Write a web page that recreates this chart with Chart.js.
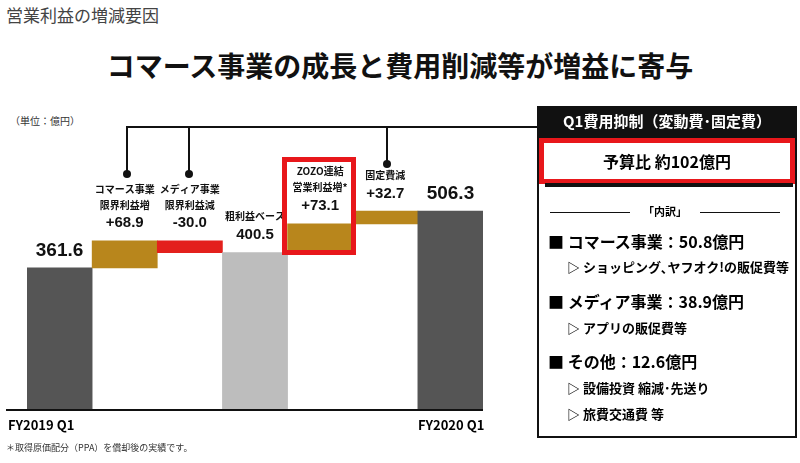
<!DOCTYPE html>
<html><head><meta charset="utf-8">
<script src="https://cdn.jsdelivr.net/npm/chart.js@4"></script>
<style>
body{margin:0;width:800px;height:463px;background:#fff;font-family:"Noto Sans CJK JP",sans-serif;position:relative;overflow:hidden}
.a{position:absolute}
#wrap{position:absolute;left:27px;top:100px;width:456px;height:310px}
.b{font-weight:bold}
</style></head><body>
<div class="a" style="left:6px;top:2px;font-size:17px;color:#444">営業利益の増減要因</div>
<div class="a b" style="left:0;width:800px;top:45px;text-align:center;font-size:28px;color:#111">コマース事業の成長と費用削減等が増益に寄与</div>
<div class="a" style="left:10px;top:113px;font-size:10px;color:#333">（単位：億円）</div>
<div id="wrap"><canvas id="c"></canvas></div>
<!-- connectors -->
<div class="a" style="left:127px;top:126px;width:413px;height:2px;background:#111"></div>
<div class="a" style="left:126px;top:126px;width:2px;height:48px;background:#111"></div>
<div class="a" style="left:188px;top:126px;width:2px;height:48px;background:#111"></div>
<div class="a" style="left:386px;top:126px;width:2px;height:37px;background:#111"></div>
<div class="a" style="left:123px;top:170px;width:8px;height:8px;border-radius:50%;background:#111"></div>
<div class="a" style="left:185px;top:170px;width:8px;height:8px;border-radius:50%;background:#111"></div>
<div class="a" style="left:383px;top:160px;width:8px;height:8px;border-radius:50%;background:#111"></div>
<div class="a" style="left:282px;top:157px;width:64px;height:88px;border:5px solid #e8171b"></div>
<div class="a" style="left:6px;top:409px;width:477px;height:2px;background:#111"></div>
<div class="a b" style="left:8px;top:415px;font-size:13px">FY2019 Q1</div>
<div class="a b" style="left:418px;top:415px;font-size:13px">FY2020 Q1</div>
<div class="a" style="left:6px;top:441px;font-size:9px;color:#333">＊取得原価配分（PPA）を償却後の実績です。</div>
<!-- panel -->
<div class="a" style="left:537px;top:106px;width:256px;height:328px;border:2px solid #111"></div>
<div class="a b" style="left:537px;top:106px;width:260px;height:32px;background:#111;color:#fff;font-size:15px;text-align:center;line-height:30px">Q1費用抑制（変動費･固定費）</div>
<div class="a b" style="left:539px;top:138px;width:246px;height:36px;border:5px solid #e8171b;background:#fff;font-size:16px;text-align:center;line-height:36px">予算比 約102億円</div>
<div class="a" style="left:545px;top:183px;width:248px;height:4px;background:#111"></div>
<div class="a" style="left:550px;top:212px;width:80px;height:1px;background:#111"></div>
<div class="a" style="left:700px;top:212px;width:80px;height:1px;background:#111"></div>
<div class="a b" style="left:630px;top:203px;width:70px;text-align:center;font-size:11px">「内訳」</div>
<div class="a b" style="left:548px;top:229px;font-size:16px">■ コマース事業：50.8億円</div>
<div class="a b" style="left:567px;top:257px;font-size:13px">▷ ショッピング､ヤフオク!の販促費等</div>
<div class="a b" style="left:548px;top:289px;font-size:16px">■ メディア事業：38.9億円</div>
<div class="a b" style="left:567px;top:318px;font-size:13px">▷ アプリの販促費等</div>
<div class="a b" style="left:548px;top:349px;font-size:16px">■ その他：12.6億円</div>
<div class="a b" style="left:567px;top:378px;font-size:13px">▷ 設備投資 縮減･先送り</div>
<div class="a b" style="left:567px;top:404px;font-size:13px">▷ 旅費交通費 等</div>
<script>
const categories=["FY2019 Q1","コマース事業限界利益増","メディア事業限界利益減","粗利益ベース","ZOZO連結営業利益増","固定費減","FY2020 Q1"];
const starts=[0,361.6,400.5,0,400.5,473.6,0];
const ends=[361.6,430.5,430.5,400.5,473.6,506.3,506.3];
const valueLabels=["361.6","+68.9","-30.0","400.5","+73.1","+32.7","506.3"];
const captions=[[],["コマース事業","限界利益増"],["メディア事業","限界利益減"],["粗利益ベース"],["ZOZO連結","営業利益増*"],["固定費減"],[]];
const colors=["#555555","#b8861c","#e3201c","#bdbdbd","#b8861c","#b8861c","#555555"];
const big=[true,false,false,false,false,false,true];
const lbl={id:"lbl",afterDatasetsDraw(ch){
 const ctx=ch.ctx,m=ch.getDatasetMeta(0);
 m.data.forEach((el,i)=>{
  const x=el.x; let top=Math.min(el.y,el.base);
  let y=top-(big[i]?8:(i==4?11:10));
  ctx.fillStyle="#111";ctx.textAlign="center";ctx.textBaseline="bottom";
  ctx.font="bold "+(big[i]?19:15)+"px 'Liberation Sans',Arial";
  ctx.fillText(valueLabels[i],x,y);
  y-= (big[i]?22:21);
  ctx.font="bold 10px 'Noto Sans CJK JP'";
  for(let k=captions[i].length-1;k>=0;k--){ctx.fillText(captions[i][k],x,y);y-=16;}
 });}};
new Chart(document.getElementById("c"),{type:"bar",
 data:{labels:categories,datasets:[{data:starts.map((s,i)=>[s,ends[i]]),backgroundColor:colors,barPercentage:1,categoryPercentage:1}]},
 options:{responsive:true,maintainAspectRatio:false,animation:false,layout:{padding:0},
  plugins:{legend:{display:false},tooltip:{enabled:false}},
  scales:{x:{display:false},y:{display:false,min:0,max:789}}},
 plugins:[lbl]});
</script></body></html>
